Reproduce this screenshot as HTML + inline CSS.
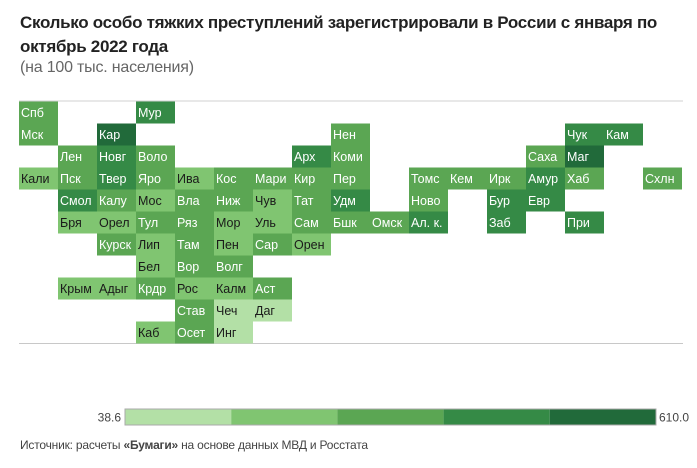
<!DOCTYPE html>
<html><head><meta charset="utf-8">
<style>
html,body{margin:0;padding:0;background:#fff;width:697px;height:468px;overflow:hidden;font-family:"Liberation Sans",sans-serif;}
.title{position:absolute;left:20px;top:11px;font-size:17px;font-weight:bold;color:#222;line-height:24px;width:670px;letter-spacing:-0.3px}
.sub{position:absolute;left:20px;top:59px;font-size:16px;color:#666;letter-spacing:-0.2px}
.src{position:absolute;left:20px;top:438px;font-size:12px;color:#444;letter-spacing:-0.2px}
</style></head><body>
<div class="title">Сколько особо тяжких преступлений зарегистрировали в России с января по октябрь 2022 года</div>
<div class="sub">(на 100 тыс. населения)</div>
<svg id="map" width="697" height="468" style="position:absolute;left:0;top:0">
<line x1="19" y1="101" x2="683" y2="101" stroke="#d0d0d0" stroke-width="1"/>
<line x1="19" y1="343.5" x2="683" y2="343.5" stroke="#c8c8c8" stroke-width="1"/>
<g id="tiles"></g>
<g id="legend"></g>
</svg>
<div class="src">Источник: расчеты <b>«Бумаги»</b> на основе данных МВД и Росстата</div>
<script>
const regions = ["Спб","Мур","Мск","Кар","Нен","Чук","Кам","Лен","Новг","Воло","Арх","Коми","Саха","Маг",
"Кали","Пск","Твер","Яро","Ива","Кос","Мари","Кир","Пер","Томс","Кем","Ирк","Амур","Хаб","Схлн",
"Смол","Калу","Мос","Вла","Ниж","Чув","Тат","Удм","Ново","Бур","Евр",
"Бря","Орел","Тул","Ряз","Мор","Уль","Сам","Бшк","Омск","Ал. к.","Заб","При",
"Курск","Лип","Там","Пен","Сар","Орен","Бел","Вор","Волг",
"Крым","Адыг","Крдр","Рос","Калм","Аст","Став","Чеч","Даг","Каб","Осет","Инг"];
const cols = [0,3,0,2,8,14,15,1,2,3,7,8,13,14,
0,1,2,3,4,5,6,7,8,10,11,12,13,14,16,
1,2,3,4,5,6,7,8,10,12,13,
1,2,3,4,5,6,7,8,9,10,12,14,
2,3,4,5,6,7,3,4,5,
1,2,3,4,5,6,4,5,6,3,4,5];
const rows = [0,0,1,1,1,1,1,2,2,2,2,2,2,2,
3,3,3,3,3,3,3,3,3,3,3,3,3,3,3,
4,4,4,4,4,4,4,4,4,4,4,
5,5,5,5,5,5,5,5,5,5,5,5,
6,6,6,6,6,6,7,7,7,
8,8,8,8,8,8,9,9,9,10,10,10];
const values = [320,430,320,560,320,430,430,320,430,320,430,320,320,560,
200,320,430,320,200,320,320,320,320,320,320,320,430,320,320,
430,320,200,320,320,200,320,430,320,430,430,
200,200,320,320,200,200,320,320,320,430,430,430,
320,200,320,200,320,200,200,320,320,
200,200,320,200,200,320,320,90,90,200,320,90];
const legendMin = 38.6, legendMax = 610.0;
const palette = ["#b3e0a6","#80c571","#5ba653","#358a46","#216a3a"];

const X0=19, Y0=101.5, CW=39, CH=22;
function xPos(c){return X0+c*CW;}
function yPos(r){return Y0+r*CH;}
function bin(v){let i=Math.floor((v-legendMin)/(legendMax-legendMin)*5);return Math.max(0,Math.min(4,i));}
const NS="http://www.w3.org/2000/svg";
const g=document.getElementById('tiles');
regions.forEach((name,i)=>{
  const b=bin(values[i]);
  const rect=document.createElementNS(NS,'rect');
  rect.setAttribute('x',xPos(cols[i]));rect.setAttribute('y',yPos(rows[i]));
  rect.setAttribute('width',CW);rect.setAttribute('height',CH);
  rect.setAttribute('fill',palette[b]);
  
  
  g.appendChild(rect);
  const t=document.createElementNS(NS,'text');
  t.setAttribute('x',xPos(cols[i])+2);t.setAttribute('y',yPos(rows[i])+15.5);
  t.setAttribute('font-size','12.5');t.setAttribute('font-family','"Liberation Sans",sans-serif');
  t.setAttribute('fill',b<=1?'#1a1a1a':'#fff');
  t.textContent=name;
  
  
  g.appendChild(t);
});
const lg=document.getElementById('legend');
const LX=125, LW=531, LY=409, LH=16;
palette.forEach((c,i)=>{
  const r=document.createElementNS(NS,'rect');
  r.setAttribute('x',LX+i*LW/5);r.setAttribute('y',LY);r.setAttribute('width',LW/5);r.setAttribute('height',LH);
  r.setAttribute('fill',c);
  
  
  lg.appendChild(r);
});
const fr=document.createElementNS(NS,'rect');
fr.setAttribute('x',LX);fr.setAttribute('y',LY);fr.setAttribute('width',LW);fr.setAttribute('height',LH);
fr.setAttribute('fill','none');fr.setAttribute('stroke','#aaa');fr.setAttribute('stroke-width','1');


lg.appendChild(fr);
[[legendMin.toFixed(1),LX-4,'end'],[legendMax.toFixed(1),LX+LW+3,'start']].forEach(([s,x,a])=>{
  const t=document.createElementNS(NS,'text');
  t.setAttribute('x',x);t.setAttribute('y',LY+12.5);t.setAttribute('text-anchor',a);
  t.setAttribute('font-size','12');t.setAttribute('fill','#444');t.setAttribute('font-family','"Liberation Sans",sans-serif');
  t.textContent=s;
  
  
  lg.appendChild(t);
});
</script>
</body></html>
